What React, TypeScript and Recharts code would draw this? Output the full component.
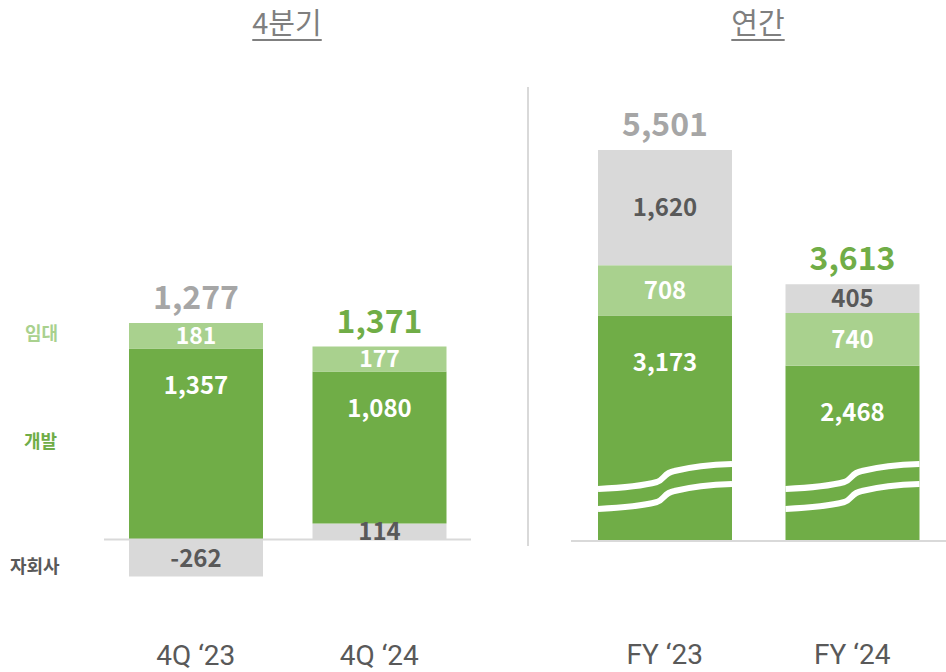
import { BarChart, Bar, XAxis, YAxis, LabelList, ReferenceLine } from 'recharts';

// 4분기
const quarterCats = ['4Q ‘23', '4Q ‘24'];
const quarterDev = [1357, 1080];
const quarterLease = [181, 177];
const quarterSub = [-262, 114];
const quarterTotal = [1277, 1371];

// 연간
const yearCats = ['FY ‘23', 'FY ‘24'];
const yearDev = [3173, 2468];
const yearLease = [708, 740];
const yearSub = [1620, 405];
const yearTotal = [5501, 3613];

const GREEN = '#70ad47';
const LIGHT_GREEN = '#a9d18e';
const GRAY = '#d9d9d9';
const DARK_TEXT = '#595959';
const FONT = '"Noto Sans CJK KR", "Noto Sans", sans-serif';

const quarterData = quarterCats.map((name, i) => ({
  name,
  dev: quarterDev[i],
  lease: quarterLease[i],
  sub: quarterSub[i],
  total: quarterTotal[i],
}));

const yearData = yearCats.map((name, i) => ({
  name,
  dev: yearDev[i],
  lease: yearLease[i],
  sub: yearSub[i],
  total: yearTotal[i],
}));

const fmt = (v: any) => Number(v).toLocaleString('en-US');

const TotalLabel = (props: any) => {
  const { x, y, width, value, index } = props;
  return (
    <text
      x={x + width / 2}
      y={y - 14}
      textAnchor="middle"
      fill={index === 0 ? '#a6a6a6' : GREEN}
      fontSize={32}
      fontWeight={700}
      fontFamily={FONT}
    >
      {fmt(value)}
    </text>
  );
};

// bar with the white "break" marks near its bottom
const BrokenBar = (props: any) => {
  const { x, y, width, height, fill } = props;
  const yb = y + height;
  const w = width;
  const wave = (o: number) =>
    `M ${x} ${yb - 52 + o} Q ${x + 0.3 * w} ${yb - 54 + o} ${x + 0.44 * w} ${yb - 59 + o} ` +
    `C ${x + 0.5 * w} ${yb - 62 + o} ${x + 0.49 * w} ${yb - 68 + o} ${x + 0.57 * w} ${yb - 70 + o} ` +
    `Q ${x + 0.75 * w} ${yb - 76 + o} ${x + w} ${yb - 77 + o}`;
  return (
    <g>
      <rect x={x} y={y} width={width} height={height} fill={fill} />
      <path d={wave(0)} stroke="#fff" strokeWidth={6} fill="none" />
      <path d={wave(20)} stroke="#fff" strokeWidth={6} fill="none" />
    </g>
  );
};

const segLabel = (fill: string) => ({
  fill,
  fontSize: 24,
  fontWeight: 700,
  fontFamily: FONT,
  formatter: fmt,
});

const tickStyle = { fill: DARK_TEXT, fontSize: 28, fontFamily: 'Roboto, sans-serif' };

const titleStyle: any = {
  position: 'absolute',
  width: 200,
  textAlign: 'center',
  fontSize: 29,
  lineHeight: '34px',
  color: '#7f7f7f',
  textDecoration: 'underline',
  textUnderlineOffset: 5,
  textDecorationThickness: 2,
};

const sideLabel: any = {
  position: 'absolute',
  fontSize: 18,
  fontWeight: 700,
  lineHeight: '20px',
};

export default function App() {
  return (
    <div
      style={{
        position: 'absolute',
        left: 0,
        top: 0,
        width: 946,
        height: 672,
        background: '#fff',
        fontFamily: FONT,
        overflow: 'hidden',
      }}
    >
      <div style={{ ...titleStyle, left: 187, top: 4 }}>4분기</div>
      <div style={{ ...titleStyle, left: 658, top: 4 }}>연간</div>

      <div style={{ ...sideLabel, left: 25, top: 322, color: LIGHT_GREEN }}>임대</div>
      <div style={{ ...sideLabel, left: 24, top: 430, color: GREEN }}>개발</div>
      <div style={{ ...sideLabel, left: 10, top: 555, color: DARK_TEXT }}>자회사</div>

      <div
        style={{ position: 'absolute', left: 527, top: 87, width: 2, height: 459, background: GRAY }}
      />

      <div style={{ position: 'absolute', left: 0, top: 0 }}>
        <BarChart
          width={480}
          height={672}
          data={quarterData}
          margin={{ top: 75, right: 9, bottom: 0, left: 104 }}
          stackOffset="sign"
          barSize={134}
        >
          <XAxis
            dataKey="name"
            axisLine={false}
            tickLine={false}
            tickSize={0}
            tickMargin={35}
            height={62}
            tick={tickStyle}
          />
          <YAxis hide domain={[-500, 3300]} allowDataOverflow />
          <ReferenceLine y={0} stroke={GRAY} strokeWidth={2} />
          <Bar dataKey="sub" stackId="a" fill={GRAY} isAnimationActive={false}>
            <LabelList dataKey="sub" position="center" {...segLabel(DARK_TEXT)} />
          </Bar>
          <Bar dataKey="dev" stackId="a" fill={GREEN} isAnimationActive={false}>
            <LabelList dataKey="dev" position="insideTop" offset={28} {...segLabel('#fff')} />
          </Bar>
          <Bar dataKey="lease" stackId="a" fill={LIGHT_GREEN} isAnimationActive={false}>
            <LabelList dataKey="lease" position="center" {...segLabel('#fff')} fontSize={23} />
            <LabelList dataKey="total" content={TotalLabel} />
          </Bar>
        </BarChart>
      </div>

      <div style={{ position: 'absolute', left: 480, top: 0 }}>
        <BarChart
          width={466}
          height={672}
          data={yearData}
          margin={{ top: 79, right: 0, bottom: 0, left: 91 }}
          barSize={134}
        >
          <XAxis
            dataKey="name"
            axisLine={false}
            tickLine={false}
            tickSize={0}
            tickMargin={103}
            height={131}
            tick={tickStyle}
          />
          <YAxis hide domain={[0, 6500]} allowDataOverflow />
          <ReferenceLine y={0} stroke={GRAY} strokeWidth={2} />
          <Bar dataKey="dev" stackId="a" fill={GREEN} shape={BrokenBar} isAnimationActive={false}>
            <LabelList dataKey="dev" position="insideTop" offset={38} {...segLabel('#fff')} />
          </Bar>
          <Bar dataKey="lease" stackId="a" fill={LIGHT_GREEN} isAnimationActive={false}>
            <LabelList dataKey="lease" position="center" {...segLabel('#fff')} />
          </Bar>
          <Bar dataKey="sub" stackId="a" fill={GRAY} isAnimationActive={false}>
            <LabelList dataKey="sub" position="center" {...segLabel(DARK_TEXT)} />
            <LabelList dataKey="total" content={TotalLabel} />
          </Bar>
        </BarChart>
      </div>
    </div>
  );
}
